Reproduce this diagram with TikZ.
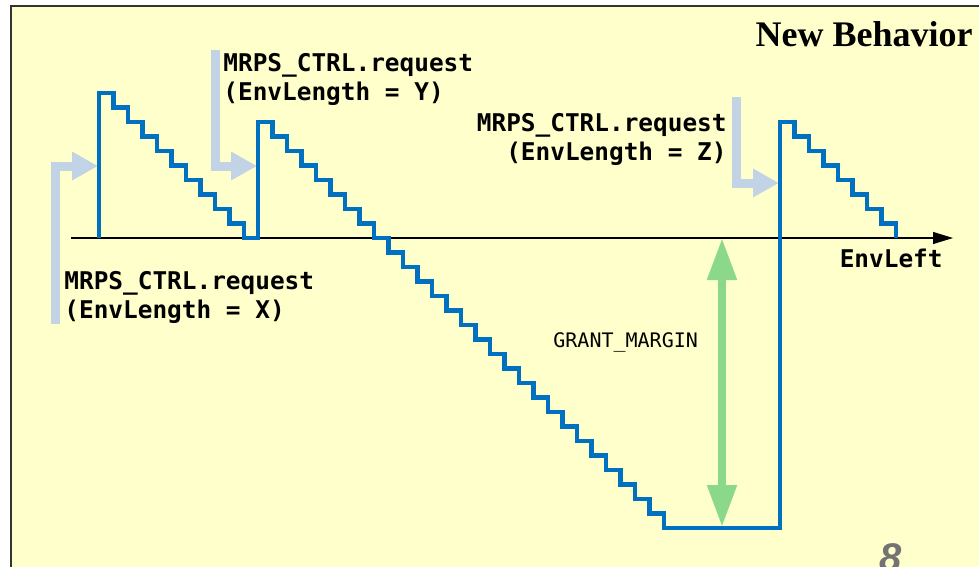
\documentclass[tikz,border=0pt]{standalone}
\usepackage{fontspec}
\setmainfont{Liberation Serif}
\newfontfamily\monofont{DejaVu Sans Mono}
\newfontfamily\pagefont{Liberation Sans}
\usetikzlibrary{arrows.meta}
\definecolor{slidebg}{HTML}{FFFFCC}
\definecolor{envblue}{HTML}{0070C0}
\definecolor{reqgray}{HTML}{C3D3E6}
\definecolor{margingreen}{HTML}{8BD88B}
\tikzset{
  envline/.style={draw=envblue,line width=2.1pt},
  reqarrow/.style={draw=reqgray,line width=4.5pt,-{Triangle[length=13pt,width=13.5pt]}},
  reqlabel/.style={inner sep=0pt,font=\monofont\bfseries\fontsize{12.2}{14.5}\selectfont},
  marginarrow/.style={draw=margingreen,line width=4pt,{Triangle[length=21pt,width=14pt]}-{Triangle[length=21pt,width=14pt]}},
}
\begin{document}
\begin{tikzpicture}[x=0.5pt,y=-0.5pt]
\useasboundingbox (0,0) rectangle (979,567);
\clip (0,0) rectangle (979,567);
\filldraw[fill=slidebg,draw=black!80,line width=1.2pt] (11,6) rectangle (1000,600);

\def\s{14.5}
\coordinate (O) at (71,238);
\coordinate (E) at (953,238);
\coordinate (A) at (99,238);
\coordinate (B) at (258,238);
\coordinate (C) at (780,528);
\coordinate (Xs) at (55.5,324);
\coordinate (Xt) at (98,166);
\coordinate (Ys) at (215.5,50);
\coordinate (Yt) at (257,166);
\coordinate (Zs) at (736.5,97);
\coordinate (Zt) at (779,183);
\coordinate (Mt) at (722,238);
\coordinate (Mb) at (722,527);

\draw[line width=0.6pt,-{Triangle[length=10pt,width=6pt]}] (O) -- (E);
\draw[reqarrow] (Xs) |- (Xt);
\draw[reqarrow] (Ys) |- (Yt);
\draw[reqarrow] (Zs) |- (Zt);
\draw[marginarrow] (Mt) -- (Mb);

\draw[envline] (A) -- ++(0,-145)
  \foreach \k in {1,...,10}{ -- ++(\s,0) -- ++(0,\s)}
  -- (B) -- ++(0,-116)
  \foreach \k in {1,...,28}{ -- ++(\s,0) -- ++(0,\s)}
  -- (C) -- ++(0,-406)
  \foreach \k in {1,...,8}{ -- ++(\s,0) -- ++(0,\s)};

\node[reqlabel,align=left,anchor=base west] (reqX) at (64,318) {MRPS\_CTRL.request\\(EnvLength = X)};
\node[reqlabel,align=left,anchor=base west] (reqY) at (223,101) {MRPS\_CTRL.request\\(EnvLength = Y)};
\node[reqlabel,align=right,anchor=base east] (reqZ) at (727,161) {MRPS\_CTRL.request\\(EnvLength = Z)};
\node[reqlabel,anchor=base east] (envleft) at (943,267) {EnvLeft};
\node[inner sep=0pt,anchor=base west,font=\monofont\fontsize{10}{12}\selectfont] (margin) at (553,347) {GRANT\_MARGIN};
\node[inner sep=0pt,anchor=base east,font=\bfseries\fontsize{18}{20}\selectfont] (title) at (973,47) {New Behavior};
\node[inner sep=0pt,anchor=base west,text=black!55,font=\pagefont\bfseries\itshape\fontsize{20}{22}\selectfont] (pagenum) at (879,571) {8};
\end{tikzpicture}
\end{document}
